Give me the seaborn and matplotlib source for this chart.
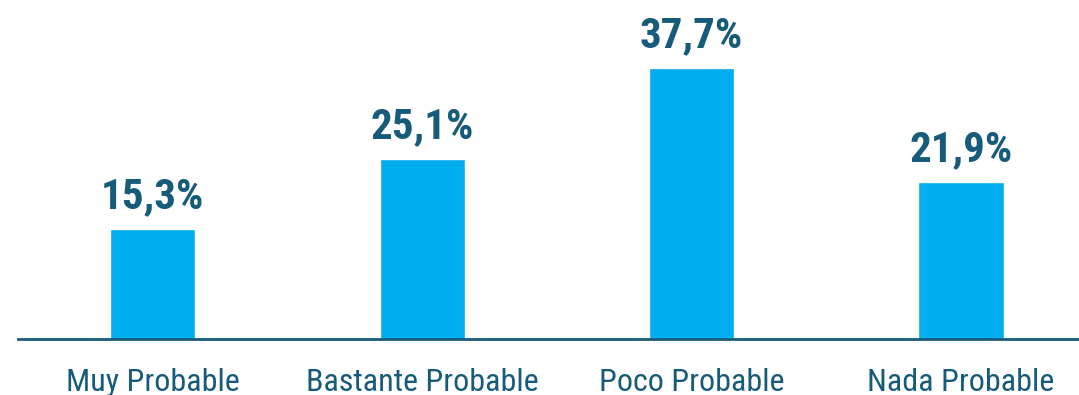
import matplotlib
matplotlib.use("Agg")
import matplotlib.pyplot as plt
import seaborn as sns
import pandas as pd

categories = ["Muy Probable", "Bastante Probable", "Poco Probable", "Nada Probable"]
values = [15.3, 25.1, 37.7, 21.9]
labels = ["15,3%", "25,1%", "37,7%", "21,9%"]

bar_color = "#00AEEF"
text_color = "#175B7A"

sns.set_style("white")
plt.rcParams["font.family"] = ["Roboto Condensed", "DejaVu Sans"]

df = pd.DataFrame({"cat": categories, "val": values})

fig = plt.figure(figsize=(10.79, 3.95), dpi=100)
ax = fig.add_axes([18 / 1079, 56 / 395, 1 - 18 / 1079, 339 / 395])
sns.barplot(data=df, x="cat", y="val", color=bar_color, width=0.316,
            saturation=1, ax=ax)

ax.set_xlim(-0.5, 3.438)
ax.set_ylim(0, 47.15)
for side in ["top", "right", "left"]:
    ax.spines[side].set_visible(False)
ax.spines["bottom"].set_color(text_color)
ax.spines["bottom"].set_linewidth(2)
ax.set_yticks([])
ax.set_xlabel("")
ax.set_ylabel("")
ax.tick_params(axis="x", length=0, pad=21, labelsize=23, labelcolor=text_color)

for i, (v, lab) in enumerate(zip(values, labels)):
    ax.annotate(lab, (i, v), xytext=(0, 15), textcoords="offset points",
                ha="center", va="baseline", fontsize=31, fontweight="bold",
                color=text_color)

fig.savefig("out.png", dpi=100)
